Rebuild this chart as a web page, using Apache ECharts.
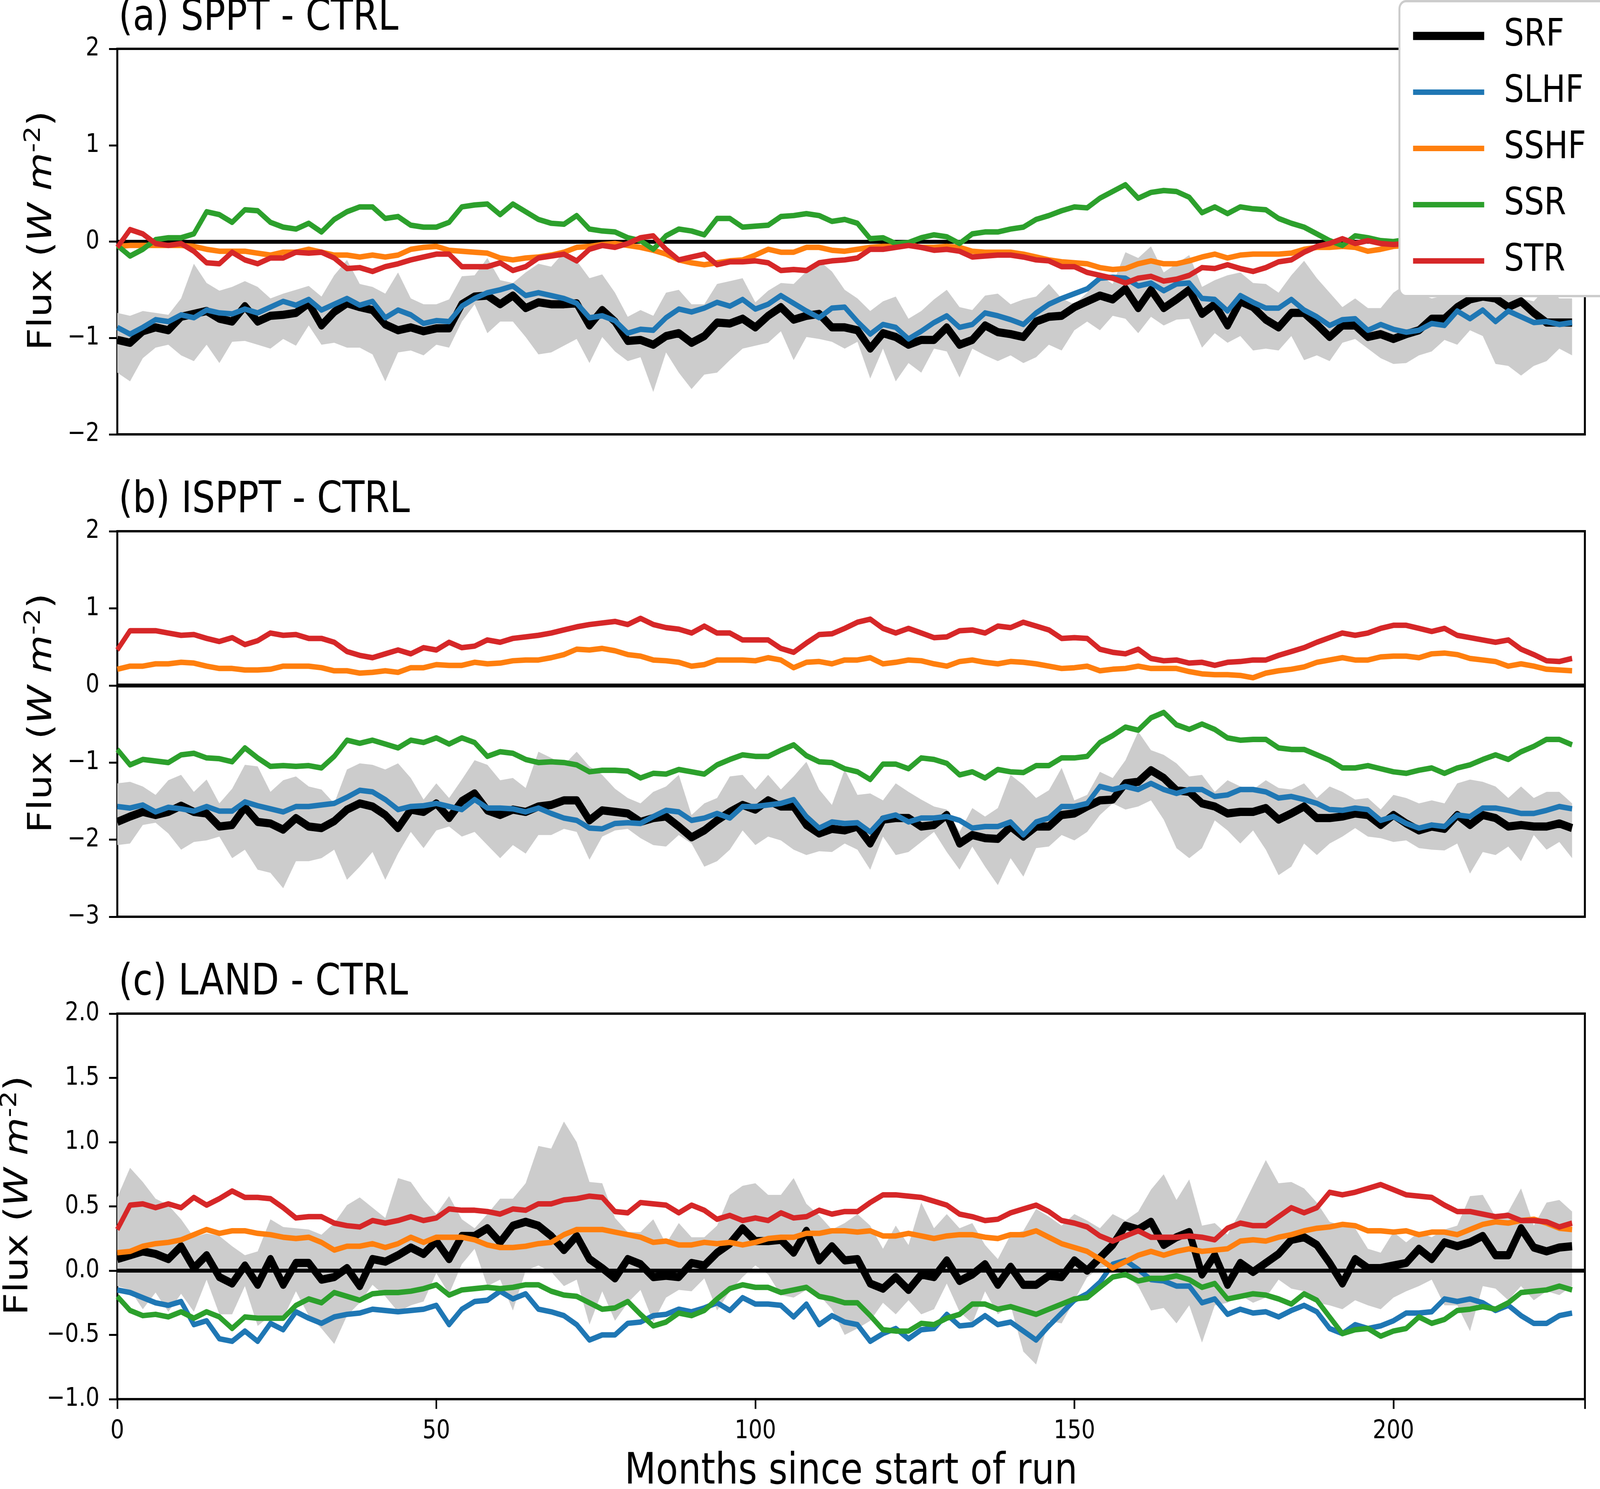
<!DOCTYPE html>
<html>
<head>
<meta charset="utf-8">
<script src="https://cdn.jsdelivr.net/npm/echarts@6/dist/echarts.min.js"></script>
<style>
html,body{margin:0;padding:0;background:#fff;overflow:hidden;}
#chart{width:4857px;height:3812px;transform-origin:0 0;}
</style>
</head>
<body>
<div id="chart"></div>
<script>
// ---------- DATA ----------
const months = [0,2,4,6,8,10,12,14,16,18,20,22,24,26,28,30,32,34,36,38,40,42,44,46,48,50,52,54,56,58,60,62,64,66,68,70,72,74,76,78,80,82,84,86,88,90,92,94,96,98,100,102,104,106,108,110,112,114,116,118,120,122,124,126,128,130,132,134,136,138,140,142,144,146,148,150,152,154,156,158,160,162,164,166,168,170,172,174,176,178,180,182,184,186,188,190,192,194,196,198,200,202,204,206,208,210,212,214,216,218,220,222,224,226,228];

const seriesNames = ['SRF','SLHF','SSHF','SSR','STR'];
const panelTitles = ['(a) SPPT - CTRL','(b) ISPPT - CTRL','(c) LAND - CTRL'];
const xTicks = [0,50,100,150,200];
const yTicksA = [-2,-1,0,1,2];
const yTicksB = [-3,-2,-1,0,1,2];
const yTicksC = [-1.0,-0.5,0.0,0.5,1.0,1.5,2.0];

// Panel (a) SPPT - CTRL
const aSRF = [-1.02,-1.05,-0.93,-0.89,-0.92,-0.78,-0.75,-0.72,-0.80,-0.83,
 -0.67,-0.83,-0.77,-0.76,-0.74,-0.64,-0.87,-0.73,-0.64,-0.68,
 -0.71,-0.86,-0.92,-0.89,-0.93,-0.90,-0.90,-0.65,-0.57,-0.56,
 -0.65,-0.56,-0.69,-0.63,-0.65,-0.65,-0.64,-0.87,-0.71,-0.83,
 -1.03,-1.02,-1.07,-0.98,-0.95,-1.05,-0.98,-0.84,-0.85,-0.80,
 -0.89,-0.77,-0.68,-0.81,-0.77,-0.75,-0.89,-0.89,
 -0.92,-1.11,-0.95,-0.99,-1.07,-1.02,-1.02,-0.89,-1.07,-1.02,-0.87,-0.94,
 -0.96,-0.99,-0.83,-0.78,-0.77,-0.68,-0.62,-0.56,-0.60,-0.49,
 -0.69,-0.50,-0.69,-0.60,-0.50,-0.75,-0.65,-0.87,-0.62,-0.68,
 -0.81,-0.89,-0.74,-0.74,-0.86,-0.99,-0.87,-0.87,-0.99,-0.96,
 -1.01,-0.96,-0.92,-0.80,-0.80,-0.68,-0.60,-0.57,-0.59,-0.68,
 -0.62,-0.74,-0.84,-0.84,-0.84];
const aSLHF = [-0.89,-0.96,-0.89,-0.81,-0.83,-0.76,-0.79,-0.71,-0.74,-0.75,
 -0.70,-0.74,-0.68,-0.62,-0.66,-0.60,-0.71,-0.65,-0.59,-0.66,
 -0.62,-0.79,-0.71,-0.76,-0.85,-0.82,-0.83,-0.67,-0.59,-0.53,
 -0.50,-0.46,-0.56,-0.53,-0.56,-0.59,-0.64,-0.79,-0.77,-0.82,
 -0.95,-0.91,-0.92,-0.79,-0.70,-0.73,-0.69,-0.63,-0.67,-0.60,
 -0.70,-0.65,-0.56,-0.64,-0.72,-0.79,-0.69,-0.68,
 -0.83,-0.96,-0.86,-0.89,-1.01,-0.93,-0.84,-0.77,-0.89,-0.86,-0.74,-0.77,
 -0.81,-0.86,-0.74,-0.65,-0.59,-0.54,-0.49,-0.38,-0.37,-0.38,
 -0.46,-0.43,-0.51,-0.44,-0.43,-0.59,-0.60,-0.72,-0.56,-0.63,
 -0.69,-0.69,-0.60,-0.71,-0.78,-0.87,-0.81,-0.80,-0.92,-0.86,
 -0.91,-0.94,-0.92,-0.85,-0.87,-0.72,-0.80,-0.71,-0.83,-0.72,
 -0.78,-0.84,-0.83,-0.86,-0.84];
const aSSHF = [-0.05,-0.04,-0.04,-0.04,-0.04,-0.04,-0.05,-0.08,-0.10,-0.10,
 -0.10,-0.12,-0.14,-0.11,-0.11,-0.08,-0.11,-0.14,-0.14,-0.16,
 -0.14,-0.16,-0.14,-0.08,-0.06,-0.05,-0.09,-0.10,-0.11,-0.12,
 -0.17,-0.19,-0.17,-0.16,-0.14,-0.11,-0.06,-0.05,-0.03,-0.02,
 -0.04,-0.06,-0.09,-0.13,-0.19,-0.22,-0.24,-0.22,-0.20,-0.19,
 -0.14,-0.08,-0.11,-0.11,-0.06,-0.06,-0.09,-0.10,
 -0.08,-0.06,-0.05,-0.05,-0.03,-0.06,-0.06,-0.05,-0.06,-0.10,-0.11,-0.11,
 -0.11,-0.13,-0.16,-0.19,-0.21,-0.22,-0.23,-0.27,-0.29,-0.28,
 -0.23,-0.20,-0.23,-0.23,-0.20,-0.16,-0.13,-0.17,-0.14,-0.13,
 -0.13,-0.13,-0.12,-0.08,-0.06,-0.06,-0.05,-0.06,-0.10,-0.08,
 -0.05,-0.04,-0.03,-0.04,-0.05,-0.06,-0.05,-0.04,-0.05,-0.06,
 -0.05,-0.04,-0.05,-0.06,-0.05];
const aSSR = [-0.04,-0.15,-0.08,0.02,0.04,0.04,0.08,0.31,0.28,0.20,
 0.33,0.32,0.20,0.15,0.13,0.19,0.10,0.23,0.31,0.36,
 0.36,0.24,0.26,0.17,0.15,0.15,0.20,0.36,0.38,0.39,
 0.28,0.39,0.31,0.23,0.19,0.18,0.27,0.13,0.11,0.10,
 0.04,0.01,-0.08,0.06,0.13,0.11,0.07,0.24,0.24,0.15,
 0.16,0.17,0.26,0.27,0.29,0.27,0.21,0.23,
 0.19,0.03,0.04,-0.02,-0.01,0.04,0.07,0.05,-0.02,0.08,0.10,0.10,
 0.13,0.15,0.23,0.27,0.32,0.36,0.35,0.45,0.52,0.59,
 0.45,0.51,0.53,0.52,0.46,0.30,0.36,0.29,0.36,0.34,
 0.33,0.24,0.19,0.15,0.08,0.01,-0.04,0.06,0.04,0.01,
 0.00,0.02,0.03,0.02,0.01,0.00,0.01,0.02,0.01,0.00,
 0.01,0.02,0.01,0.00,0.01];
const aSTR = [-0.06,0.125,0.08,-0.02,-0.04,-0.02,-0.10,-0.22,-0.23,-0.11,
 -0.19,-0.23,-0.17,-0.17,-0.11,-0.12,-0.11,-0.17,-0.28,-0.27,
 -0.31,-0.26,-0.23,-0.19,-0.16,-0.13,-0.13,-0.26,-0.26,-0.26,
 -0.22,-0.30,-0.26,-0.17,-0.15,-0.13,-0.20,-0.08,-0.04,-0.06,
 -0.02,0.04,0.06,-0.08,-0.19,-0.16,-0.13,-0.24,-0.21,-0.21,
 -0.20,-0.22,-0.30,-0.29,-0.30,-0.22,-0.20,-0.19,
 -0.17,-0.08,-0.08,-0.06,-0.04,-0.06,-0.09,-0.08,-0.10,-0.16,-0.15,-0.14,
 -0.14,-0.16,-0.19,-0.20,-0.26,-0.26,-0.32,-0.35,-0.38,-0.43,
 -0.38,-0.36,-0.41,-0.39,-0.35,-0.27,-0.28,-0.24,-0.28,-0.31,
 -0.27,-0.21,-0.19,-0.11,-0.05,-0.02,0.03,-0.02,0.01,-0.02,
 -0.03,-0.02,-0.01,0.00,-0.01,-0.02,-0.01,0.00,-0.01,-0.02,
 -0.01,0.00,-0.01,-0.02,-0.01];
const aLo = [-1.36,-1.45,-1.21,-1.10,-1.07,-1.18,-1.24,-1.07,-1.26,-1.04,
 -1.03,-1.07,-1.11,-1.01,-1.08,-0.87,-1.07,-1.05,-1.10,-1.10,
 -1.17,-1.45,-1.15,-1.13,-1.18,-1.07,-1.10,-0.83,-0.65,-0.95,
 -0.83,-0.83,-0.99,-1.17,-1.15,-1.08,-1.01,-1.26,-0.99,-1.14,
 -1.24,-1.20,-1.56,-1.15,-1.36,-1.53,-1.38,-1.36,-1.23,-1.11,
 -1.08,-1.05,-0.93,-1.23,-0.99,-1.01,-1.04,-1.11,
 -1.04,-1.42,-1.11,-1.45,-1.26,-1.36,-1.11,-1.14,-1.41,-1.11,-1.18,-1.24,
 -1.18,-1.26,-1.20,-1.07,-1.13,-0.92,-0.83,-0.92,-0.77,-0.80,
 -0.95,-0.78,-0.87,-0.81,-0.80,-1.10,-0.95,-1.05,-0.98,-1.13,
 -1.11,-1.13,-0.98,-1.23,-1.18,-1.24,-1.05,-1.01,-1.11,-1.21,
 -1.27,-1.26,-1.18,-1.14,-1.02,-1.07,-0.92,-0.98,-1.27,-1.29,
 -1.39,-1.29,-1.24,-1.11,-1.18];
const aHi = [-0.74,-0.77,-0.72,-0.74,-0.76,-0.59,-0.23,-0.43,-0.51,-0.47,
 -0.41,-0.47,-0.59,-0.54,-0.50,-0.46,-0.57,-0.35,-0.19,-0.44,
 -0.47,-0.54,-0.32,-0.59,-0.65,-0.65,-0.60,-0.36,-0.35,-0.17,
 -0.40,-0.43,-0.32,-0.23,-0.26,-0.11,-0.20,-0.38,-0.34,-0.53,
 -0.78,-0.71,-0.77,-0.53,-0.50,-0.65,-0.65,-0.44,-0.41,-0.38,
 -0.63,-0.51,-0.43,-0.44,-0.31,-0.20,-0.31,-0.50,
 -0.59,-0.72,-0.62,-0.57,-0.80,-0.72,-0.60,-0.50,-0.68,-0.71,-0.56,-0.54,
 -0.65,-0.60,-0.57,-0.44,-0.59,-0.65,-0.53,-0.35,-0.44,-0.11,
 -0.17,-0.05,-0.32,-0.23,-0.14,-0.47,-0.40,-0.35,-0.32,-0.43,
 -0.44,-0.53,-0.35,-0.20,-0.38,-0.53,-0.68,-0.59,-0.69,-0.69,
 -0.53,-0.44,-0.54,-0.59,-0.56,-0.47,-0.47,-0.44,-0.50,-0.47,
 -0.59,-0.62,-0.47,-0.59,-0.59];

// Panel (b) ISPPT - CTRL
const bSRF = [-1.77,-1.70,-1.64,-1.68,-1.64,-1.56,-1.64,-1.66,-1.83,-1.81,
 -1.58,-1.77,-1.79,-1.87,-1.72,-1.83,-1.85,-1.76,-1.61,-1.53,
 -1.57,-1.68,-1.85,-1.61,-1.64,-1.53,-1.72,-1.50,-1.40,-1.62,
 -1.68,-1.61,-1.64,-1.57,-1.55,-1.49,-1.49,-1.75,-1.62,-1.64,
 -1.66,-1.77,-1.72,-1.70,-1.83,-1.97,-1.88,-1.75,-1.64,-1.55,
 -1.61,-1.49,-1.57,-1.57,-1.81,-1.92,-1.86,-1.88,
 -1.83,-2.05,-1.74,-1.72,-1.72,-1.83,-1.81,-1.68,-2.05,-1.94,-1.98,-1.99,
 -1.83,-1.96,-1.83,-1.83,-1.68,-1.66,-1.57,-1.49,-1.48,-1.27,
 -1.25,-1.10,-1.20,-1.36,-1.38,-1.53,-1.57,-1.66,-1.64,-1.64,
 -1.59,-1.74,-1.66,-1.57,-1.72,-1.72,-1.70,-1.66,-1.68,-1.81,
 -1.68,-1.79,-1.88,-1.83,-1.86,-1.68,-1.81,-1.68,-1.72,-1.83,
 -1.81,-1.83,-1.83,-1.79,-1.85];
const bSLHF = [-1.57,-1.59,-1.55,-1.64,-1.58,-1.60,-1.63,-1.57,-1.63,-1.63,
 -1.51,-1.56,-1.60,-1.64,-1.57,-1.57,-1.55,-1.53,-1.45,-1.36,
 -1.38,-1.48,-1.61,-1.57,-1.56,-1.53,-1.57,-1.61,-1.48,-1.59,
 -1.59,-1.60,-1.64,-1.59,-1.66,-1.72,-1.75,-1.85,-1.86,-1.79,
 -1.78,-1.79,-1.70,-1.62,-1.64,-1.75,-1.72,-1.66,-1.72,-1.57,
 -1.57,-1.55,-1.53,-1.48,-1.70,-1.85,-1.77,-1.79,
 -1.78,-1.90,-1.72,-1.68,-1.77,-1.72,-1.72,-1.70,-1.75,-1.85,-1.83,-1.83,
 -1.77,-1.94,-1.77,-1.72,-1.57,-1.57,-1.53,-1.31,-1.35,-1.31,
 -1.35,-1.27,-1.35,-1.40,-1.35,-1.35,-1.44,-1.42,-1.35,-1.35,
 -1.38,-1.46,-1.44,-1.48,-1.53,-1.61,-1.62,-1.59,-1.61,-1.75,
 -1.70,-1.79,-1.85,-1.81,-1.83,-1.68,-1.70,-1.59,-1.59,-1.62,
 -1.66,-1.66,-1.62,-1.57,-1.60];
const bSSHF = [0.21,0.25,0.25,0.28,0.28,0.30,0.29,0.25,0.22,0.22,
 0.20,0.20,0.21,0.25,0.25,0.25,0.23,0.19,0.19,0.16,
 0.17,0.19,0.17,0.23,0.23,0.27,0.26,0.26,0.30,0.28,
 0.29,0.32,0.33,0.33,0.36,0.40,0.47,0.46,0.48,0.45,
 0.40,0.38,0.33,0.32,0.30,0.25,0.27,0.33,0.33,0.33,
 0.32,0.36,0.33,0.23,0.30,0.31,0.28,0.33,
 0.33,0.36,0.28,0.30,0.33,0.32,0.28,0.25,0.31,0.33,0.30,0.28,
 0.31,0.30,0.28,0.25,0.22,0.23,0.25,0.19,0.21,0.22,
 0.25,0.22,0.22,0.22,0.18,0.15,0.14,0.14,0.13,0.10,
 0.16,0.19,0.21,0.24,0.30,0.33,0.36,0.33,0.33,0.37,
 0.38,0.38,0.36,0.41,0.42,0.40,0.35,0.33,0.31,0.25,
 0.28,0.25,0.21,0.20,0.19];
const bSSR = [-0.83,-1.03,-0.96,-0.98,-1.00,-0.90,-0.88,-0.94,-0.95,-0.99,
 -0.81,-0.94,-1.05,-1.04,-1.05,-1.04,-1.07,-0.92,-0.71,-0.75,
 -0.71,-0.76,-0.81,-0.71,-0.74,-0.68,-0.76,-0.68,-0.74,-0.92,
 -0.86,-0.88,-0.96,-1.00,-0.99,-1.00,-1.03,-1.12,-1.10,-1.10,
 -1.11,-1.20,-1.14,-1.15,-1.09,-1.12,-1.15,-1.03,-0.96,-0.90,
 -0.92,-0.92,-0.84,-0.77,-0.91,-0.99,-1.00,-1.08,
 -1.12,-1.22,-1.02,-1.02,-1.08,-0.94,-0.96,-1.01,-1.16,-1.12,-1.20,-1.09,
 -1.12,-1.13,-1.04,-1.04,-0.94,-0.94,-0.92,-0.74,-0.65,-0.54,
 -0.58,-0.42,-0.35,-0.51,-0.57,-0.50,-0.57,-0.68,-0.71,-0.70,
 -0.70,-0.81,-0.83,-0.83,-0.90,-0.97,-1.07,-1.07,-1.04,-1.08,
 -1.12,-1.14,-1.10,-1.07,-1.14,-1.07,-1.03,-0.96,-0.90,-0.96,
 -0.86,-0.79,-0.70,-0.70,-0.77];
const bSTR = [0.46,0.71,0.71,0.71,0.68,0.65,0.66,0.61,0.57,0.62,
 0.53,0.58,0.68,0.65,0.66,0.61,0.61,0.56,0.44,0.39,
 0.36,0.41,0.46,0.41,0.49,0.46,0.56,0.49,0.51,0.59,
 0.56,0.61,0.63,0.65,0.68,0.72,0.76,0.79,0.81,0.83,
 0.79,0.87,0.79,0.75,0.73,0.68,0.77,0.68,0.68,0.59,
 0.59,0.59,0.48,0.43,0.55,0.66,0.67,0.74,
 0.82,0.86,0.74,0.68,0.74,0.68,0.62,0.63,0.71,0.72,0.68,0.77,
 0.75,0.82,0.77,0.72,0.61,0.62,0.61,0.47,0.43,0.41,
 0.47,0.35,0.32,0.33,0.29,0.30,0.26,0.30,0.31,0.33,
 0.33,0.39,0.44,0.49,0.56,0.62,0.68,0.65,0.68,0.74,
 0.78,0.78,0.74,0.70,0.74,0.65,0.62,0.59,0.56,0.59,
 0.47,0.40,0.32,0.31,0.35];
const bLo = [-2.07,-2.05,-1.81,-1.78,-1.92,-2.13,-2.03,-2.01,-1.96,-2.24,
 -2.13,-2.39,-2.43,-2.63,-2.28,-2.28,-2.24,-2.13,-2.52,-2.35,
 -2.16,-2.52,-2.18,-1.90,-2.11,-1.88,-1.83,-1.96,-1.90,-2.07,
 -2.24,-2.07,-2.18,-1.94,-1.94,-1.86,-1.90,-2.26,-1.96,-1.88,
 -1.86,-1.98,-2.07,-2.09,-1.94,-2.05,-2.35,-2.28,-2.13,-1.88,
 -2.07,-1.96,-2.01,-2.13,-2.20,-2.15,-2.16,-2.05,
 -2.13,-2.39,-1.96,-2.20,-2.16,-2.03,-1.90,-2.16,-2.39,-2.09,-2.35,-2.59,
 -2.24,-2.48,-2.11,-2.09,-1.94,-2.01,-1.90,-1.68,-1.53,-1.61,
 -1.57,-1.49,-1.74,-2.11,-2.24,-2.11,-1.75,-1.88,-2.05,-1.88,
 -2.13,-2.46,-2.35,-2.05,-2.20,-2.05,-1.96,-1.85,-1.96,-1.98,
 -2.03,-2.01,-2.11,-2.13,-2.14,-2.05,-2.44,-2.16,-2.20,-2.09,
 -2.28,-1.94,-2.13,-2.03,-2.24];
const bHi = [-1.27,-1.25,-1.31,-1.42,-1.23,-1.16,-1.38,-1.22,-1.53,-1.34,
 -1.03,-1.05,-1.38,-1.23,-1.18,-1.31,-1.35,-1.53,-1.09,-1.01,
 -1.03,-1.09,-1.01,-1.20,-1.48,-1.27,-1.46,-1.22,-0.97,-1.03,
 -1.23,-1.20,-1.33,-0.86,-0.94,-1.03,-0.86,-1.05,-1.16,-1.34,
 -1.46,-1.53,-1.38,-1.31,-1.16,-1.68,-1.53,-1.46,-1.18,-1.16,
 -1.35,-1.16,-1.35,-1.18,-0.99,-1.35,-1.55,-1.09,
 -1.42,-1.40,-1.49,-1.27,-1.38,-1.48,-1.57,-1.61,-1.90,-1.59,-1.70,-1.59,
 -1.16,-1.29,-1.46,-1.36,-1.07,-1.49,-1.42,-1.12,-1.20,-0.97,
 -0.60,-0.84,-0.90,-1.01,-1.18,-1.16,-1.38,-1.23,-1.31,-1.35,
 -1.23,-1.33,-1.35,-1.27,-1.46,-1.31,-1.38,-1.48,-1.46,-1.61,
 -1.42,-1.46,-1.53,-1.49,-1.53,-1.27,-1.22,-1.25,-1.31,-1.46,
 -1.31,-1.46,-1.38,-1.38,-1.53];

// Panel (c) LAND - CTRL
const cSRF = [0.09,0.12,0.15,0.13,0.09,0.19,0.02,0.12,-0.05,-0.10,
 0.04,-0.11,0.09,-0.11,0.06,0.06,-0.07,-0.05,0.02,-0.12,
 0.09,0.07,0.12,0.18,0.13,0.23,0.09,0.27,0.27,0.33,
 0.22,0.35,0.38,0.35,0.27,0.16,0.27,0.09,0.02,-0.06,
 0.09,0.05,-0.05,-0.04,-0.05,0.06,0.04,0.14,0.21,0.33,
 0.23,0.23,0.24,0.14,0.31,0.08,0.19,0.08,
 0.09,-0.10,-0.14,-0.05,-0.15,-0.03,-0.05,0.08,-0.08,-0.03,0.05,-0.11,
 0.03,-0.11,-0.11,-0.04,-0.05,0.08,0.00,0.10,0.20,0.35,
 0.32,0.38,0.20,0.26,0.30,-0.03,0.12,-0.11,0.06,-0.01,
 0.06,0.13,0.24,0.26,0.20,0.06,-0.10,0.09,0.02,0.02,
 0.04,0.06,0.17,0.09,0.22,0.19,0.22,0.27,0.12,0.12,
 0.33,0.18,0.15,0.18,0.19];
const cSLHF = [-0.15,-0.17,-0.21,-0.25,-0.27,-0.24,-0.42,-0.39,-0.53,-0.55,
 -0.47,-0.55,-0.41,-0.46,-0.32,-0.37,-0.41,-0.36,-0.34,-0.33,
 -0.30,-0.31,-0.32,-0.31,-0.30,-0.27,-0.42,-0.30,-0.24,-0.23,
 -0.16,-0.22,-0.18,-0.30,-0.32,-0.35,-0.42,-0.54,-0.50,-0.50,
 -0.41,-0.40,-0.35,-0.34,-0.30,-0.32,-0.29,-0.25,-0.31,-0.21,
 -0.26,-0.26,-0.27,-0.36,-0.26,-0.42,-0.35,-0.40,
 -0.42,-0.55,-0.49,-0.45,-0.53,-0.46,-0.45,-0.34,-0.43,-0.42,-0.35,-0.42,
 -0.40,-0.47,-0.54,-0.43,-0.33,-0.23,-0.18,-0.09,0.05,0.08,
 0.01,-0.07,-0.08,-0.12,-0.12,-0.25,-0.22,-0.34,-0.30,-0.33,
 -0.32,-0.36,-0.31,-0.27,-0.32,-0.45,-0.49,-0.42,-0.45,-0.43,
 -0.39,-0.33,-0.33,-0.32,-0.22,-0.24,-0.22,-0.25,-0.31,-0.27,
 -0.35,-0.41,-0.41,-0.35,-0.33];
const cSSHF = [0.14,0.15,0.19,0.21,0.22,0.24,0.28,0.32,0.29,0.31,
 0.31,0.29,0.28,0.26,0.25,0.26,0.22,0.16,0.19,0.19,
 0.21,0.18,0.21,0.26,0.22,0.26,0.26,0.26,0.24,0.20,
 0.18,0.18,0.19,0.21,0.22,0.28,0.32,0.32,0.32,0.30,
 0.28,0.26,0.22,0.23,0.20,0.20,0.22,0.21,0.22,0.20,
 0.22,0.25,0.26,0.26,0.29,0.29,0.31,0.31,
 0.30,0.31,0.27,0.27,0.29,0.27,0.25,0.27,0.28,0.28,0.26,0.25,
 0.28,0.28,0.31,0.26,0.21,0.18,0.15,0.09,0.02,0.07,
 0.12,0.15,0.12,0.15,0.17,0.15,0.16,0.17,0.23,0.24,
 0.23,0.26,0.28,0.31,0.33,0.34,0.36,0.35,0.31,0.31,
 0.30,0.31,0.28,0.30,0.30,0.28,0.32,0.36,0.38,0.37,
 0.39,0.40,0.37,0.33,0.32];
const cSSR = [-0.20,-0.31,-0.35,-0.34,-0.36,-0.32,-0.37,-0.32,-0.36,-0.45,
 -0.36,-0.37,-0.37,-0.37,-0.27,-0.22,-0.25,-0.17,-0.20,-0.23,
 -0.18,-0.17,-0.17,-0.16,-0.14,-0.11,-0.19,-0.15,-0.14,-0.13,
 -0.14,-0.13,-0.11,-0.11,-0.16,-0.19,-0.20,-0.25,-0.30,-0.29,
 -0.24,-0.34,-0.43,-0.40,-0.33,-0.35,-0.31,-0.22,-0.14,-0.11,
 -0.13,-0.13,-0.17,-0.15,-0.13,-0.20,-0.22,-0.25,
 -0.25,-0.35,-0.46,-0.47,-0.47,-0.41,-0.42,-0.37,-0.34,-0.26,-0.26,-0.30,
 -0.28,-0.31,-0.34,-0.30,-0.26,-0.22,-0.21,-0.13,-0.05,-0.03,
 -0.08,-0.06,-0.06,-0.04,-0.07,-0.13,-0.10,-0.22,-0.20,-0.18,
 -0.19,-0.22,-0.26,-0.18,-0.23,-0.36,-0.49,-0.46,-0.45,-0.51,
 -0.47,-0.45,-0.36,-0.41,-0.38,-0.31,-0.30,-0.28,-0.30,-0.25,
 -0.17,-0.16,-0.15,-0.12,-0.15];
const cSTR = [0.32,0.51,0.52,0.49,0.52,0.49,0.57,0.51,0.56,0.62,
 0.57,0.57,0.56,0.49,0.41,0.42,0.42,0.37,0.35,0.34,
 0.39,0.37,0.39,0.42,0.39,0.41,0.48,0.47,0.47,0.46,
 0.44,0.48,0.47,0.52,0.52,0.55,0.56,0.58,0.57,0.46,
 0.45,0.53,0.52,0.51,0.45,0.51,0.47,0.40,0.43,0.39,
 0.41,0.39,0.45,0.41,0.42,0.47,0.44,0.46,
 0.46,0.53,0.59,0.59,0.58,0.57,0.54,0.51,0.44,0.42,0.39,0.40,
 0.45,0.48,0.51,0.46,0.39,0.37,0.34,0.27,0.23,0.27,
 0.31,0.26,0.26,0.26,0.27,0.26,0.24,0.33,0.37,0.35,
 0.35,0.42,0.49,0.45,0.49,0.61,0.59,0.61,0.64,0.67,
 0.63,0.59,0.58,0.57,0.51,0.46,0.46,0.44,0.42,0.43,
 0.39,0.39,0.38,0.34,0.37];
const cLo = [-0.12,-0.15,-0.30,-0.17,-0.32,-0.18,-0.32,-0.07,-0.34,-0.34,
 -0.12,-0.43,-0.35,-0.37,-0.16,-0.35,-0.45,-0.57,-0.35,-0.25,
 -0.11,-0.20,-0.32,-0.27,-0.24,-0.02,-0.18,0.05,0.17,-0.12,
 -0.07,-0.31,0.00,0.04,-0.01,-0.12,-0.07,-0.42,-0.16,-0.39,
 -0.25,-0.15,-0.40,-0.21,-0.15,-0.16,-0.06,-0.31,-0.16,-0.05,
 0.04,-0.03,-0.19,-0.21,-0.15,-0.19,-0.30,-0.50,
 -0.45,-0.39,-0.25,-0.34,-0.23,-0.34,-0.30,-0.10,-0.32,-0.41,-0.16,-0.34,
 -0.27,-0.63,-0.73,-0.39,-0.41,-0.23,-0.05,0.02,0.04,-0.03,
 -0.12,-0.31,-0.29,-0.41,-0.27,-0.56,-0.27,-0.25,-0.19,-0.25,
 -0.21,-0.07,-0.14,-0.16,-0.25,-0.27,-0.30,-0.23,-0.27,-0.30,
 -0.21,-0.16,-0.12,-0.07,-0.27,-0.27,-0.47,-0.12,-0.14,-0.23,
 -0.12,-0.23,-0.16,-0.19,-0.12];
const cHi = [0.57,0.80,0.69,0.56,0.51,0.40,0.26,0.29,0.27,0.19,
 0.12,0.15,0.40,0.34,0.33,0.32,0.28,0.37,0.51,0.57,
 0.49,0.41,0.72,0.69,0.55,0.44,0.58,0.40,0.33,0.44,
 0.56,0.56,0.68,0.97,0.95,1.16,1.00,0.69,0.68,0.41,
 0.30,0.30,0.40,0.21,0.37,0.26,0.26,0.35,0.59,0.66,
 0.68,0.59,0.59,0.72,0.52,0.43,0.32,0.37,
 0.44,0.35,0.17,0.35,0.20,0.53,0.33,0.44,0.33,0.37,0.20,0.09,
 0.28,0.31,0.48,0.42,0.35,0.44,0.39,0.33,0.44,0.39,
 0.46,0.63,0.75,0.55,0.71,0.35,0.37,0.28,0.46,0.66,
 0.86,0.68,0.69,0.64,0.53,0.38,0.35,0.33,0.17,0.14,
 0.30,0.22,0.30,0.26,0.32,0.35,0.58,0.59,0.42,0.46,
 0.64,0.35,0.53,0.55,0.46];

// ---------- STYLE ----------
const W = 4857, H = 3812;
const FONT = 'DejaVu Sans';
const COLORS = {SRF:'#000000', SLHF:'#1f77b4', SSHF:'#ff7f0e', SSR:'#2ca02c', STR:'#d62728'};
const WIDTHS = {SRF:21, SLHF:14, SSHF:14, SSR:14, STR:14};
const BAND = '#cccccc';

// fit the 4857x3812 drawing into whatever viewport the browser actually has
(function(){
  const el = document.getElementById('chart');
  const sx = (window.innerWidth || W) / W, sy = (window.innerHeight || H) / H;
  if (Math.abs(sx - 1) > 1e-3 || Math.abs(sy - 1) > 1e-3) el.style.transform = 'scale(' + sx + ',' + sy + ')';
})();

const panels = [
  {top:125, yt:yTicksA, dec:0, lines:{SRF:aSRF,SLHF:aSLHF,SSHF:aSSHF,SSR:aSSR,STR:aSTR}, lo:aLo, hi:aHi, ylabX:129},
  {top:1360, yt:yTicksB, dec:0, lines:{SRF:bSRF,SLHF:bSLHF,SSHF:bSSHF,SSR:bSSR,STR:bSTR}, lo:bLo, hi:bHi, ylabX:129},
  {top:2595, yt:yTicksC, dec:1, lines:{SRF:cSRF,SLHF:cSLHF,SSHF:cSSHF,SSR:cSSR,STR:cSTR}, lo:cLo, hi:cHi, ylabX:57}
];
const GL = 356, GW = 4455, GH = 987;

function fmt(dec){
  return function(v){
    const s = Math.abs(v).toFixed(dec);
    return (v < -1e-9 ? '\u2212' : '') + s;
  };
}

const grids = [], xAxes = [], yAxes = [], series = [], graphics = [];
panels.forEach(function(p, k){
  grids.push({left:GL, top:p.top, width:GW, height:GH, show:true, borderColor:'#000', borderWidth:6, backgroundColor:'rgba(0,0,0,0)', containLabel:false});
  const last = (k === 2);
  xAxes.push({
    type:'value', gridIndex:k, min:xTicks[0], max:230, interval:50,
    axisLine:{show:true, onZero:false, lineStyle:{color:'#000', width:6}},
    axisTick:{show:last, length:25, lineStyle:{color:'#000', width:5}},
    axisLabel:{show:last, fontSize:66, fontFamily:FONT, color:'#000', margin:50,
      customValues: xTicks, formatter: function(v){ return String(v); }},
    splitLine:{show:false}
  });
  const yt = p.yt;
  yAxes.push({
    type:'value', gridIndex:k, min:yt[0], max:yt[yt.length-1], interval:(yt[1]-yt[0]),
    axisLine:{show:true, onZero:false, lineStyle:{color:'#000', width:6}},
    axisTick:{show:true, length:25, lineStyle:{color:'#000', width:5}},
    axisLabel:{show:true, fontSize:66, fontFamily:FONT, color:'#000', margin:54, formatter: fmt(p.dec)},
    splitLine:{show:false}
  });
  // uncertainty band
  const lo = p.lo, hi = p.hi;
  series.push({
    type:'custom', name:'band'+k, xAxisIndex:k, yAxisIndex:k, z:1, silent:true, clip:true,
    data: months.map(function(m,i){ return [m, lo[i], hi[i]]; }),
    encode:{x:0, y:[1,2]},
    renderItem: function(params, api){
      if (params.dataIndex !== 0) return null;
      const pts = [];
      for (let i = 0; i < months.length; i++) pts.push(api.coord([months[i], hi[i]]));
      for (let i = months.length - 1; i >= 0; i--) pts.push(api.coord([months[i], lo[i]]));
      return {type:'polygon', shape:{points:pts}, style:{fill:BAND, stroke:null, lineWidth:0}};
    }
  });
  seriesNames.forEach(function(nm, j){
    const vals = p.lines[nm];
    series.push({
      type:'line', name:nm, xAxisIndex:k, yAxisIndex:k, z:3+j,
      data: months.map(function(m,i){ return [m, vals[i]]; }),
      symbol:'none', showSymbol:false, smooth:false, clip:true,
      lineStyle:{color:COLORS[nm], width:WIDTHS[nm], join:'round', cap:'butt'},
      itemStyle:{color:COLORS[nm]},
      emphasis:{disabled:true}, silent:true
    });
  });
  // zero reference line
  series.push({
    type:'line', name:'zero'+k, xAxisIndex:k, yAxisIndex:k, z:10, data:[], silent:true,
    markLine:{silent:true, symbol:['none','none'], label:{show:false}, animation:false,
      lineStyle:{color:'#000', width:10, type:'solid'}, emphasis:{disabled:true},
      data:[{yAxis:0}]}
  });
  // panel title
  graphics.push({type:'text', x:GL+4, y:p.top-78, z:100,
    style:{text:panelTitles[k], fontSize:110, fontFamily:FONT, fill:'#000', textAlign:'left', textVerticalAlign:'middle', align:'left', verticalAlign:'middle'}});
  // y label
  graphics.push({type:'text', x:p.ylabX, y:p.top + GH/2 - 28, rotation:Math.PI/2, z:100,
    style:{
      text:'{n|Flux (}{i|W m}{s|-2}{n|)}',
      textAlign:'center', textVerticalAlign:'middle', align:'center', verticalAlign:'middle',
      fill:'#000',
      rich:{
        n:{fontSize:100, fontFamily:FONT, fill:'#000', lineHeight:120},
        i:{fontSize:100, fontFamily:FONT, fontStyle:'italic', fill:'#000', lineHeight:120},
        s:{fontSize:68, fontFamily:FONT, fill:'#000', verticalAlign:'top', lineHeight:60}
      }
    }});
});
// x label
graphics.push({type:'text', x:GL + GW/2, y:3769, z:100,
  style:{text:'Months since start of run', fontSize:110, fontFamily:FONT, fill:'#000', textAlign:'center', textVerticalAlign:'middle', align:'center', verticalAlign:'middle'}});

const legendItems = seriesNames.map(function(nm){
  return {name:nm, lineStyle:{width:WIDTHS[nm], color:COLORS[nm], cap:'butt'},
          itemStyle:{color:'rgba(0,0,0,0)', borderWidth:0, opacity:0}};
});

const chart = echarts.init(document.getElementById('chart'), null, {renderer:'canvas', width:W, height:H, devicePixelRatio:1});
chart.setOption({
  backgroundColor:'#ffffff',
  animation:false,
  grid:grids, xAxis:xAxes, yAxis:yAxes, series:series, graphic:graphics,
  legend:{
    data:legendItems, orient:'vertical', left:4248, top:3, selectedMode:false,
    itemWidth:216, itemHeight:28, itemGap:44,
    padding:[39,92,40,31],
    backgroundColor:'#ffffff', borderColor:'#cccccc', borderWidth:6, borderRadius:20,
    textStyle:{fontSize:96, fontFamily:FONT, color:'#000', lineHeight:100, padding:[0,0,0,55]},
    z:50
  }
});
</script>
</body>
</html>
